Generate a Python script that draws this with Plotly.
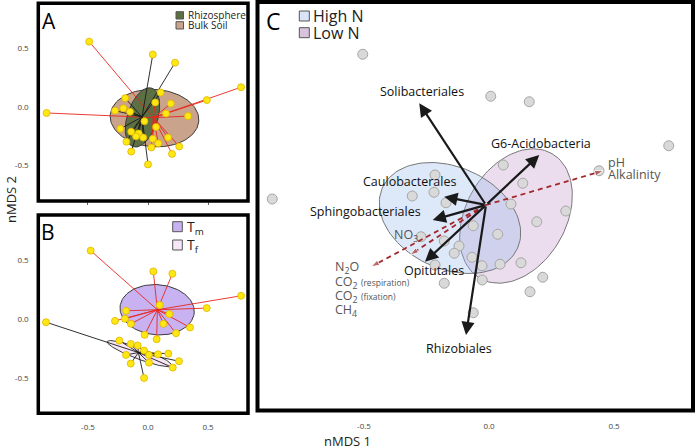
import numpy as np
import plotly.graph_objects as go

W, H = 696, 447
FONT = "Open Sans"

# ---------------- data ----------------
# Panel A: nMDS site scores, grouped Rhizosphere (R) / Bulk Soil (B)
a_x = [-0.49, 0.04, 0.225, 0.775, 0.49, -0.845, 0.105, -0.19, 0.06, 0.19, -0.275,
       -0.205, -0.15, 0.15, 0.333, -0.03, 0.067, -0.23, -0.14, -0.078, -0.10, -0.04,
       0.04, 0.167, -0.18, 0.086, 0.26, 0.028, -0.14, 0.20, 0.0]
a_y = [0.56, 0.45, 0.38, 0.17, 0.06, -0.05, 0.125, 0.077, 0.04, 0.03, -0.03,
       -0.01, -0.04, -0.055, -0.077, -0.12, -0.17, -0.185, -0.21, -0.225, -0.25, -0.26,
       -0.27, -0.26, -0.296, -0.31, -0.336, -0.345, -0.38, -0.40, -0.49]
a_grp = ["B", "R", "R", "B", "B", "B", "R", "R", "B", "B", "R",
         "R", "R", "B", "B", "R", "B", "R", "R", "R", "R", "R",
         "B", "B", "R", "B", "B", "B", "R", "B", "R"]
a_centroid = {"R": (-0.05, -0.085), "B": (0.045, -0.09)}
# ellipses: cx, cy, semi-major, semi-minor, angle(deg)
a_ellipse = {"B": (0.054, -0.094, 0.37, 0.245, -4), "R": (-0.046, -0.088, 0.262, 0.127, 73)}

# Panel B: nMDS site scores, grouped Tm (M) / Tf (F)
b_x = [-0.478, 0.044, 0.203, 0.775, 0.489, -0.85, 0.097, -0.183, 0.178, -0.275,
       -0.192, -0.142, 0.128, 0.35, -0.028, 0.072, 0.233, -0.239, -0.144, -0.086,
       -0.033, -0.183, 0.008, 0.083, 0.169, -0.144, 0.008, 0.258, 0.206, -0.033]
b_y = [0.584, 0.407, 0.387, 0.199, 0.094, -0.026, 0.12, 0.071, 0.043, -0.015,
       0.003, -0.04, -0.04, -0.071, -0.134, -0.171, -0.12, -0.183, -0.211, -0.225,
       -0.268, -0.305, -0.305, -0.30, -0.294, -0.379, -0.371, -0.359, -0.413, -0.502]
b_grp = ["M", "M", "M", "M", "M", "F", "M", "M", "M", "M",
         "M", "M", "M", "M", "M", "M", "M", "F", "F", "F",
         "F", "F", "F", "F", "F", "F", "F", "F", "F", "F"]
b_centroid = {"M": (0.078, 0.08), "F": (-0.08, -0.285)}
b_ellipse = {"M": (0.076, 0.08, 0.31, 0.214, -5), "F": (-0.072, -0.294, 0.287, 0.047, -21)}

# Panel C: site scores
c_x = [-0.505, 0.007, 0.161, 0.719, 0.44, -0.867, 0.057, -0.216, 0.135, -0.307,
       -0.22, -0.172, 0.088, 0.307, 0.191, -0.063, 0.035, -0.272, -0.179, -0.12,
       -0.139, -0.068, 0.128, 0.044, -0.028, -0.216, 0.215, -0.027, -0.179, 0.164, -0.063]
c_y = [0.603, 0.435, 0.413, 0.237, 0.137, 0.024, 0.16, 0.12, 0.087, 0.036,
       0.051, 0.009, 0.004, -0.024, -0.067, -0.083, -0.117, -0.127, -0.144, -0.164,
       -0.193, -0.209, -0.231, -0.237, -0.243, -0.24, -0.289, -0.30, -0.313, -0.347, -0.431]
c_ellipse = {"Low N": (0.108, -0.044, 0.288, 0.20, 60), "High N": (-0.156, -0.052, 0.296, 0.204, -24)}
c_origin = (-0.012, 0.0)
# taxa vectors (arrow tips)
taxa = ["Solibacteriales", "G6-Acidobacteria", "Caulobacterales", "Sphingobacteriales",
        "Opitutales", "Rhizobiales"]
taxa_x = [-0.279, 0.201, -0.179, -0.225, -0.256, -0.092]
taxa_y = [0.407, 0.20, 0.033, -0.06, -0.227, -0.52]
# environmental vectors (arrow tips)
env = ["pH / Alkalinity", "N2O / CO2 / CH4", "NO3"]
env_x = [0.457, -0.472, -0.316]
env_y = [0.137, -0.247, -0.20]

ticks = [-0.5, 0.0, 0.5]
tick_text = ["-0.5", "0.0", "0.5"]

# ---------------- helpers ----------------
def ellipse(cx, cy, a, b, ang, n=120):
    t = np.linspace(0, 2 * np.pi, n)
    th = np.deg2rad(ang)
    x = cx + a * np.cos(t) * np.cos(th) - b * np.sin(t) * np.sin(th)
    y = cy + a * np.cos(t) * np.sin(th) + b * np.sin(t) * np.cos(th)
    return x, y

def spider(xs, ys, grp, g, cen):
    lx, ly = [], []
    for x, y, gg in zip(xs, ys, grp):
        if gg == g:
            lx += [cen[0], x, None]
            ly += [cen[1], y, None]
    return lx, ly

def px(x):
    return x / W

def py(y):
    return 1 - y / H

fig = go.Figure()

# ---------------- Panel A ----------------
A_FILL = {"B": "#c9a38b", "R": "#5c7044"}
for g in ["B", "R"]:
    ex, ey = ellipse(*a_ellipse[g])
    fig.add_trace(go.Scatter(x=ex, y=ey, mode="lines", fill="toself", fillcolor=A_FILL[g],
                             line=dict(color="#3a3a3a", width=1), xaxis="x", yaxis="y",
                             hoverinfo="skip"))
for g, col in [("B", "#e8261e"), ("R", "#1a1a1a")]:
    lx, ly = spider(a_x, a_y, a_grp, g, a_centroid[g])
    fig.add_trace(go.Scatter(x=lx, y=ly, mode="lines", line=dict(color=col, width=0.9),
                             xaxis="x", yaxis="y", hoverinfo="skip"))
fig.add_trace(go.Scatter(x=a_x, y=a_y, mode="markers",
                         marker=dict(size=7, color="#ffe812", line=dict(color="#e0b400", width=0.8)),
                         xaxis="x", yaxis="y"))

# ---------------- Panel B ----------------
B_FILL = {"M": "#c8b2f2", "F": "#f6e6f6"}
for g in ["M", "F"]:
    ex, ey = ellipse(*b_ellipse[g])
    fig.add_trace(go.Scatter(x=ex, y=ey, mode="lines", fill="toself", fillcolor=B_FILL[g],
                             line=dict(color="#3a3a3a", width=1), xaxis="x2", yaxis="y2",
                             hoverinfo="skip"))
for g, col in [("M", "#e8261e"), ("F", "#1a1a1a")]:
    lx, ly = spider(b_x, b_y, b_grp, g, b_centroid[g])
    fig.add_trace(go.Scatter(x=lx, y=ly, mode="lines", line=dict(color=col, width=0.9),
                             xaxis="x2", yaxis="y2", hoverinfo="skip"))
fig.add_trace(go.Scatter(x=b_x, y=b_y, mode="markers",
                         marker=dict(size=7, color="#ffe812", line=dict(color="#e0b400", width=0.8)),
                         xaxis="x2", yaxis="y2"))

# ---------------- Panel C ----------------
C_FILL = {"Low N": "rgba(200,160,205,0.36)", "High N": "rgba(150,185,235,0.32)"}
for g in ["Low N", "High N"]:
    ex, ey = ellipse(*c_ellipse[g])
    fig.add_trace(go.Scatter(x=ex, y=ey, mode="lines", fill="toself", fillcolor=C_FILL[g],
                             line=dict(color="#777777", width=1), xaxis="x3", yaxis="y3",
                             hoverinfo="skip"))
fig.add_trace(go.Scatter(x=c_x, y=c_y, mode="markers",
                         marker=dict(size=10, color="#d9d9d9", line=dict(color="#a6a6a6", width=1)),
                         xaxis="x3", yaxis="y3"))
for ex_, ey_ in zip(env_x, env_y):
    fig.add_trace(go.Scatter(x=[c_origin[0], ex_], y=[c_origin[1], ey_], mode="lines+markers",
                             line=dict(color="#a3282b", width=1.8, dash="5px,4px"),
                             marker=dict(symbol="arrow", size=[0, 9], angleref="previous",
                                         color="#a3282b"),
                             xaxis="x3", yaxis="y3", hoverinfo="skip"))

annotations = []
for tx, ty in zip(taxa_x, taxa_y):
    annotations.append(dict(x=tx, y=ty, ax=c_origin[0], ay=c_origin[1], xref="x3", yref="y3",
                            axref="x3", ayref="y3", text="", showarrow=True, arrowhead=2,
                            arrowsize=1.2, arrowwidth=2.2, arrowcolor="#1a1a1a"))

lab_font = dict(family=FONT, size=12.5, color="#111111")
# taxa labels (offset from arrow tips)
taxa_lab_dx = [0.01, 0.007, -0.14, -0.27, 0.036, -0.028]
taxa_lab_dy = [0.045, 0.044, 0.06, 0.032, -0.036, -0.053]
for name, tx, ty, dx, dy in zip(taxa, taxa_x, taxa_y, taxa_lab_dx, taxa_lab_dy):
    annotations.append(dict(x=tx + dx, y=ty + dy, xref="x3", yref="y3", text=name,
                            showarrow=False, xanchor="center", yanchor="middle", font=lab_font))

env_font = dict(family=FONT, size=12.5, color="#555555")
annotations += [
    dict(x=0.466, y=0.171, xref="x3", yref="y3", text="pH", showarrow=False,
         xanchor="left", yanchor="middle", font=env_font),
    dict(x=0.466, y=0.122, xref="x3", yref="y3", text="Alkalinity", showarrow=False,
         xanchor="left", yanchor="middle", font=env_font),
    dict(x=-0.332, y=-0.124, xref="x3", yref="y3", text="NO<sub>3</sub>", showarrow=False,
         xanchor="center", yanchor="middle", font=env_font),
    dict(x=-0.626, y=-0.248, xref="x3", yref="y3", text="N<sub>2</sub>O", showarrow=False,
         xanchor="left", yanchor="middle", font=env_font),
    dict(x=-0.626, y=-0.31, xref="x3", yref="y3",
         text="CO<sub>2</sub> <span style='font-size:8.5px'>(respiration)</span>",
         showarrow=False, xanchor="left", yanchor="middle", font=env_font),
    dict(x=-0.626, y=-0.367, xref="x3", yref="y3",
         text="CO<sub>2</sub> <span style='font-size:8.5px'>(fixation)</span>",
         showarrow=False, xanchor="left", yanchor="middle", font=env_font),
    dict(x=-0.626, y=-0.42, xref="x3", yref="y3", text="CH<sub>4</sub>", showarrow=False,
         xanchor="left", yanchor="middle", font=env_font),
]

# panel letters
for letter, (lx, ly), fs in [("A", (48.5, 20.5), 21), ("B", (47.5, 231.5), 21), ("C", (273.5, 21.5), 23)]:
    annotations.append(dict(x=px(lx), y=py(ly), xref="paper", yref="paper", text=letter,
                            showarrow=False, xanchor="center", yanchor="middle",
                            font=dict(family=FONT, size=fs, color="black")))

shapes = []
# legends
legend_items = [
    # (swatch x0,x1,y0,y1 in px, fill, text, text x, text y, font size)
    ((176, 183.5, 11.7, 19), A_FILL["R"], "Rhizosphere", 185.5, 15.3, 10),
    ((176, 183.5, 21.7, 29), A_FILL["B"], "Bulk Soil", 185.5, 25.3, 10),
    ((172.7, 182.3, 221.7, 231.7), B_FILL["M"], "T<sub>m</sub>", 184.5, 227, 14),
    ((172.7, 182.3, 240, 250), B_FILL["F"], "T<sub>f</sub>", 184.5, 245.5, 14),
    ((299.3, 309.3, 11, 21), "#d9e4f8", "High N", 311, 16, 16),
    ((299.3, 309.3, 27.7, 37.7), "#d9c2de", "Low N", 311, 33, 16),
]
for (x0, x1, y0, y1), fc, txt, tx, ty, fs in legend_items:
    shapes.append(dict(type="rect", xref="paper", yref="paper", x0=px(x0), x1=px(x1),
                       y0=py(y1), y1=py(y0), fillcolor=fc, line=dict(color="#555555", width=1)))
    annotations.append(dict(x=px(tx), y=py(ty), xref="paper", yref="paper", text=txt,
                            showarrow=False, xanchor="left", yanchor="middle",
                            font=dict(family=FONT, size=fs, color="#222222")))

# axis titles
annotations.append(dict(x=px(11), y=py(200), xref="paper", yref="paper", text="nMDS 2",
                        textangle=-90, showarrow=False, xanchor="center", yanchor="middle",
                        font=dict(family=FONT, size=13, color="#222")))
annotations.append(dict(x=px(347), y=py(441), xref="paper", yref="paper", text="nMDS 1",
                        showarrow=False, xanchor="center", yanchor="middle",
                        font=dict(family=FONT, size=13, color="#222")))

# frames
for ref, wdt in [("x", 3.5), ("x2", 3.5), ("x3", 4)]:
    yref = ref.replace("x", "y")
    shapes.append(dict(type="rect", xref=f"{ref} domain", yref=f"{yref} domain",
                       x0=0, x1=1, y0=0, y1=1, line=dict(color="black", width=wdt)))

tick_font = dict(family=FONT, size=8, color="#444444")
ab_x = dict(domain=[38.3 / W, 248 / W], range=[-0.914, 0.833], showgrid=False, zeroline=False,
            tickvals=ticks, ticktext=tick_text, tickfont=tick_font, fixedrange=True)
ab_y = dict(range=[-0.803, 0.888], showgrid=False, zeroline=False, tickvals=ticks,
            ticktext=tick_text, tickfont=tick_font, ticks="outside", ticklen=7,
            tickcolor="rgba(0,0,0,0)")

fig.update_layout(
    width=W, height=H, margin=dict(l=0, r=0, t=0, b=0),
    paper_bgcolor="white", plot_bgcolor="white", showlegend=False,
    xaxis=dict(ab_x, anchor="y", showticklabels=False, ticks="outside", ticklen=3,
               tickcolor="#666666", tickwidth=1),
    yaxis=dict(ab_y, domain=[1 - 201 / H, 1 - 3.3 / H], anchor="x"),
    xaxis2=dict(ab_x, anchor="y2", ticks="outside", ticklen=6, tickcolor="rgba(0,0,0,0)"),
    yaxis2=dict(ab_y, domain=[1 - 413.3 / H, 1 - 215 / H], anchor="x2"),
    xaxis3=dict(domain=[257.5 / W, 693 / W], range=[-0.926, 0.816], anchor="y3",
                showgrid=False, zeroline=False, tickvals=ticks, ticktext=tick_text,
                tickfont=tick_font, ticks="outside", ticklen=8, tickcolor="rgba(0,0,0,0)"),
    yaxis3=dict(domain=[1 - 410.5 / H, 1 - 2 / H], range=[-0.822, 0.812], anchor="x3",
                showgrid=False, zeroline=False, showticklabels=False),
    annotations=annotations, shapes=shapes,
)

fig.write_html("out.html", include_plotlyjs=True, config={"displayModeBar": False},
               post_script="document.body.style.margin='0px';document.body.style.overflow='hidden';")
